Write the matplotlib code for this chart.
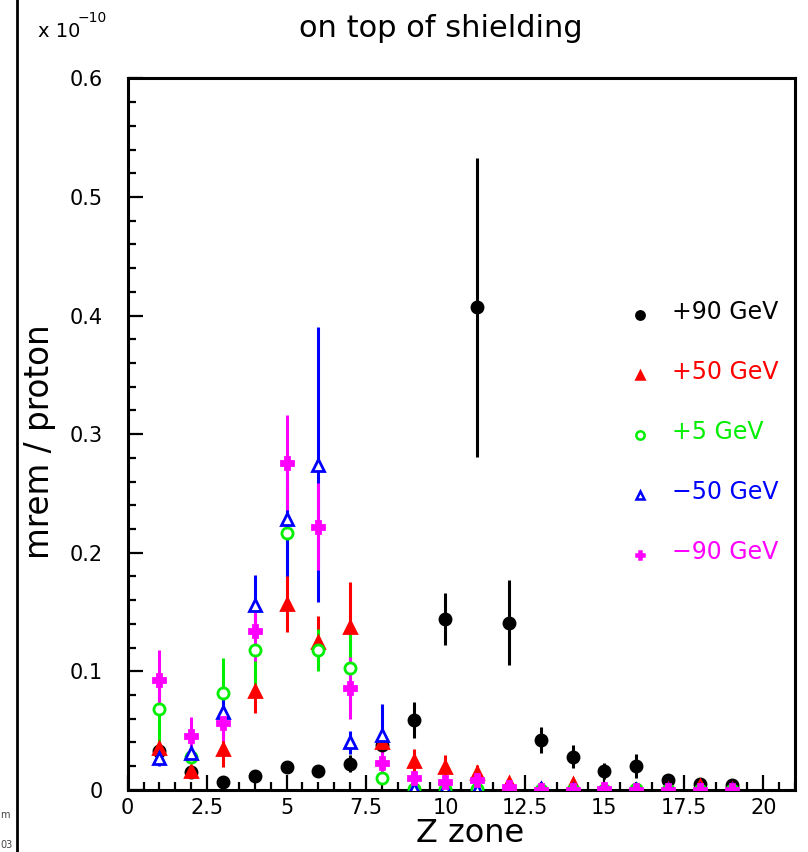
import matplotlib.pyplot as plt
from matplotlib.ticker import MultipleLocator

plt.rcParams['font.family'] = ['DejaVu Sans']

# Z zone of each bin
zones = list(range(1, 20))

# dose per proton (units of 1e-10 mrem)
p90 = [0.033, 0.015, 0.007, 0.012, 0.019, 0.016, 0.022, 0.038, 0.059, 0.144,
       0.407, 0.141, 0.042, 0.028, 0.016, 0.020, 0.008, 0.005, 0.004]
p90_err = [0.004, 0.004, 0.003, 0.003, 0.004, 0.003, 0.007, 0.006, 0.015, 0.022,
           0.126, 0.036, 0.011, 0.010, 0.007, 0.010, 0.003, 0.003, 0.002]

p50 = [0.035, 0.016, 0.034, 0.083, 0.157, 0.125, 0.137, 0.040, 0.024, 0.019,
       0.014, 0.006, 0.001, 0.005, 0.000, 0.000, 0.001, 0.003, 0.001]
p50_err = [0.004, 0.004, 0.015, 0.018, 0.024, 0.022, 0.038, 0.006, 0.010, 0.010,
           0.007, 0.004, 0.001, 0.004, 0.000, 0.000, 0.001, 0.002, 0.001]

p5 = [0.068, 0.028, 0.082, 0.118, 0.217, 0.118, 0.103, 0.010, 0.001, 0.001,
      0.001, 0.000, 0.000, 0.000, 0.000, 0.001, 0.000, 0.000, 0.000]
p5_err = [0.030, 0.005, 0.029, 0.030, 0.036, 0.018, 0.033, 0.003, 0.001, 0.001,
          0.001, 0.000, 0.000, 0.000, 0.000, 0.001, 0.000, 0.000, 0.000]

m50 = [0.027, 0.031, 0.066, 0.156, 0.228, 0.274, 0.040, 0.046, 0.001, 0.001,
       0.000, 0.000, 0.001, 0.000, 0.000, 0.000, 0.000, 0.000, 0.000]
m50_err = [0.007, 0.008, 0.016, 0.025, 0.048, 0.116, 0.010, 0.026, 0.001, 0.001,
           0.000, 0.000, 0.001, 0.000, 0.000, 0.000, 0.000, 0.000, 0.000]

m90 = [0.093, 0.045, 0.056, 0.134, 0.276, 0.222, 0.086, 0.023, 0.010, 0.007,
       0.008, 0.002, 0.000, 0.000, 0.001, 0.000, 0.000, 0.000, 0.000]
m90_err = [0.025, 0.016, 0.015, 0.025, 0.040, 0.037, 0.026, 0.010, 0.003, 0.004,
           0.005, 0.002, 0.000, 0.000, 0.001, 0.000, 0.000, 0.000, 0.000]

series = [
    ("+90 GeV", p90, p90_err, "black", "o", True),
    ("+50 GeV", p50, p50_err, "#ff0000", "^", True),
    ("+5 GeV", p5, p5_err, "#00ee00", "o", False),
    ("\u221250 GeV", m50, m50_err, "#0000ff", "^", False),
    ("\u221290 GeV", m90, m90_err, "#ff00ff", "P", True),
]

fig = plt.figure(figsize=(8.08, 8.52), dpi=100)
ax = fig.add_axes([0.158, 0.073, 0.826, 0.835])

for i, (label, vals, errs, color, marker, filled) in enumerate(series):
    face = color if filled else 'white'
    ax.errorbar(zones, vals, yerr=errs, fmt='none', ecolor=color, elinewidth=2.2,
                capsize=0, zorder=2)
    ax.plot(zones, vals, linestyle='none', marker=marker, markersize=8,
            markeredgewidth=2, color=color, markerfacecolor=face, zorder=3)
    # legend entry, ROOT style: small marker + coloured text
    ly = 0.667 - i * 0.0843
    ax.plot([0.768], [ly], transform=ax.transAxes, linestyle='none', marker=marker,
            markersize=6, markeredgewidth=1.8, color=color, markerfacecolor=face,
            clip_on=False)
    ax.text(0.815, ly + 0.004, label, transform=ax.transAxes, color=color,
            fontsize=17, ha='left', va='center')

ax.set_xlim(0, 21)
ax.set_ylim(0, 0.6)
ax.xaxis.set_major_locator(MultipleLocator(2.5))
ax.xaxis.set_minor_locator(MultipleLocator(0.5))
ax.yaxis.set_major_locator(MultipleLocator(0.1))
ax.yaxis.set_minor_locator(MultipleLocator(0.02))
ax.xaxis.set_major_formatter(plt.FuncFormatter(lambda v, p: f"{v:g}"))
ax.yaxis.set_major_formatter(plt.FuncFormatter(lambda v, p: f"{v:g}"))

ax.tick_params(which='both', direction='in', top=False, right=False,
               labelsize=15, width=1.6)
ax.tick_params(which='major', length=11)
ax.tick_params(which='minor', length=6)
ax.tick_params(axis='y', pad=18)
ax.tick_params(axis='x', pad=6)
for s in ax.spines.values():
    s.set_linewidth(2.2)

ax.set_xlabel("Z zone", fontsize=23, va='center')
ax.xaxis.set_label_coords(0.513, -0.061)
ax.set_ylabel("mrem / proton", fontsize=23.5, va='center')
ax.yaxis.set_label_coords(-0.132, 0.49)

fig.text(0.545, 0.966, "on top of shielding", fontsize=22, ha='center', va='center')
fig.text(0.047, 0.963, "x 10", fontsize=14, ha='left', va='center')
fig.text(0.096, 0.979, "\u221210", fontsize=10, ha='left', va='center')

# page border and clipped margin note
fig.add_artist(plt.Line2D([0.021, 0.021], [0, 1], color='black', linewidth=2))
fig.text(0.0, 0.044, "m", fontsize=7, color='#444444', ha='left', va='center')
fig.text(0.0, 0.008, "03", fontsize=7, color='#444444', ha='left', va='center')

fig.savefig("out.png", dpi=100)
